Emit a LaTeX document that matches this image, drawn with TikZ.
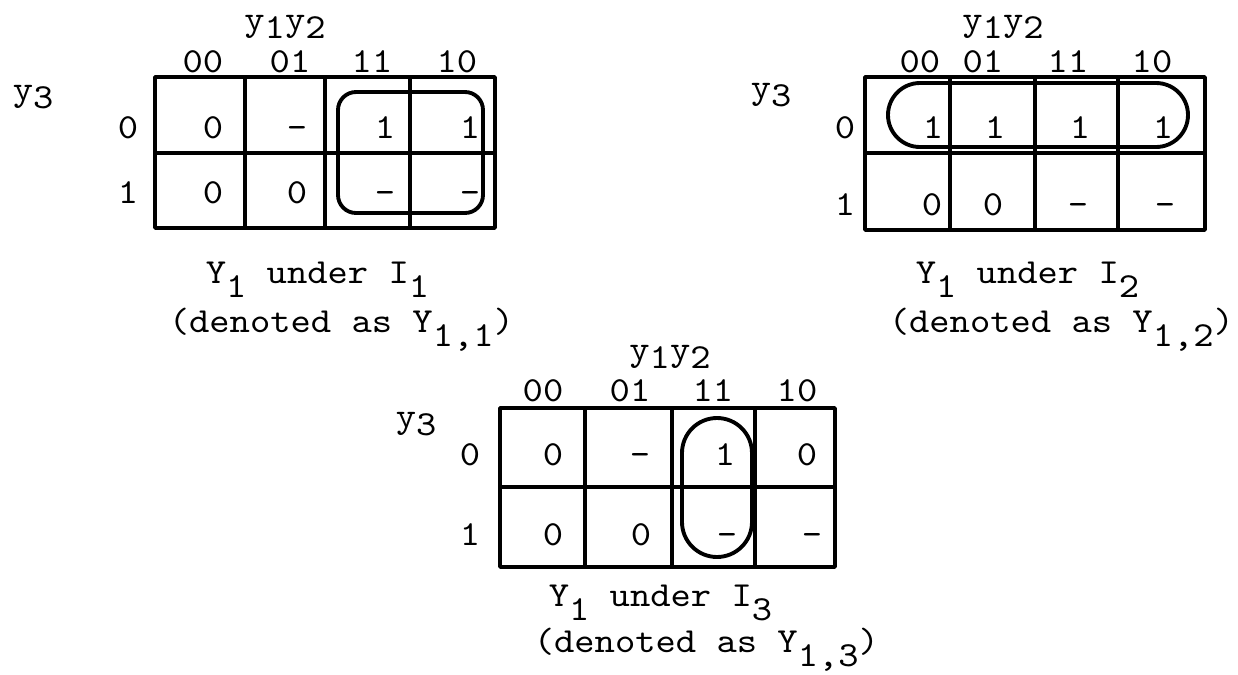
\documentclass[tikz,border=0pt]{standalone}
\usepackage{graphicx}
\newcommand\dn[2]{\raisebox{-#1}{#2}}
\begin{document}
\begin{tikzpicture}[x=0.01cm,y=-0.01cm,
  txt/.style={inner sep=0pt, font=\fontsize{10}{12}\selectfont\ttfamily, xscale=1.1},
  dig/.style={txt, text height=0.61em, text depth=0pt},
  gridline/.style={line width=1pt, line cap=round, line join=round},
  grouploop/.style={line width=1.1pt}]
\useasboundingbox (0,0) rectangle (1238,675);

% ---------------- Map 1 ----------------
\draw[gridline] (155,77) rectangle (495,228);
\draw[gridline] (245,77) -- (245,228) (325,77) -- (325,228) (410,77) -- (410,228) (155,153) -- (495,153);
\node[txt,anchor=base] (m1h) at (285,30) {y\dn{0.25em}{1}y\dn{0.25em}{2}};
\node[txt,anchor=base] (m1c1) at (203,72) {00};
\node[txt,anchor=base] (m1c2) at (290,72) {01};
\node[txt,anchor=base] (m1c3) at (372,72) {11};
\node[txt,anchor=base] (m1c4) at (457,72) {10};
\node[txt,anchor=base west] (m1y) at (12,100) {y\dn{0.25em}{3}};
\node[dig] (m1r0) at (128,128) {0};
\node[dig] (m1r1) at (128,193) {1};
\node[dig] (m1a1) at (213,128) {0};
\node[dig] (m1a2) at (297,128) {-};
\node[dig] (m1a3) at (385,128) {1};
\node[dig] (m1a4) at (470,128) {1};
\node[dig] (m1b1) at (213,193) {0};
\node[dig] (m1b2) at (297,193) {0};
\node[dig] (m1b3) at (385,193) {-};
\node[dig] (m1b4) at (470,193) {-};
\draw[grouploop, rounded corners=1.8mm] (338,92) rectangle (483,213);
\node[txt,anchor=base west] (m1t1) at (205,283) {Y\dn{0.42em}{1} under I\dn{0.42em}{1}};
\node[txt,anchor=base west] (m1t2) at (168,332) {(denoted as Y\dn{0.42em}{1,1})};

% ---------------- Map 2 ----------------
\draw[gridline] (865,77) rectangle (1205,230);
\draw[gridline] (950,77) -- (950,230) (1035,77) -- (1035,230) (1118,77) -- (1118,230) (865,153) -- (1205,153);
\node[txt,anchor=base] (m2h) at (1003,30) {y\dn{0.25em}{1}y\dn{0.25em}{2}};
\node[txt,anchor=base] (m2c1) at (920,72) {00};
\node[txt,anchor=base] (m2c2) at (983,72) {01};
\node[txt,anchor=base] (m2c3) at (1068,72) {11};
\node[txt,anchor=base] (m2c4) at (1152,72) {10};
\node[txt,anchor=base west] (m2y) at (750,98) {y\dn{0.25em}{3}};
\node[dig] (m2r0) at (845,128) {0};
\node[dig] (m2r1) at (845,205) {1};
\node[dig] (m2a1) at (933,128) {1};
\node[dig] (m2a2) at (995,128) {1};
\node[dig] (m2a3) at (1080,128) {1};
\node[dig] (m2a4) at (1163,128) {1};
\node[dig] (m2b1) at (932,205) {0};
\node[dig] (m2b2) at (993,205) {0};
\node[dig] (m2b3) at (1078,205) {-};
\node[dig] (m2b4) at (1165,205) {-};
\draw[grouploop, rounded corners=3.2mm] (888,83) rectangle (1188,147);
\node[txt,anchor=base west] (m2t1) at (915,283) {Y\dn{0.42em}{1} under I\dn{0.42em}{2}};
\node[txt,anchor=base west] (m2t2) at (888,332) {(denoted as Y\dn{0.42em}{1,2})};

% ---------------- Map 3 ----------------
\draw[gridline] (500,408) rectangle (835,567);
\draw[gridline] (585,408) -- (585,567) (672,408) -- (672,567) (755,408) -- (755,567) (500,487) -- (835,487);
\node[txt,anchor=base] (m3h) at (670,360) {y\dn{0.25em}{1}y\dn{0.25em}{2}};
\node[txt,anchor=base] (m3c1) at (543,401) {00};
\node[txt,anchor=base] (m3c2) at (630,401) {01};
\node[txt,anchor=base] (m3c3) at (713,401) {11};
\node[txt,anchor=base] (m3c4) at (797,401) {10};
\node[txt,anchor=base west] (m3y) at (395,427) {y\dn{0.25em}{3}};
\node[dig] (m3r0) at (470,455) {0};
\node[dig] (m3r1) at (470,535) {1};
\node[dig] (m3a1) at (553,455) {0};
\node[dig] (m3a2) at (640,455) {-};
\node[dig] (m3a3) at (725,455) {1};
\node[dig] (m3a4) at (807,455) {0};
\node[dig] (m3b1) at (553,535) {0};
\node[dig] (m3b2) at (641,535) {0};
\node[dig] (m3b3) at (727,535) {-};
\node[dig] (m3b4) at (812,535) {-};
\draw[grouploop, rounded corners=3.5mm] (682,418) rectangle (752,557);
\node[txt,anchor=base west] (m3t1) at (548,606) {Y\dn{0.42em}{1} under I\dn{0.42em}{3}};
\node[txt,anchor=base west] (m3t2) at (533,652) {(denoted as Y\dn{0.42em}{1,3})};
\end{tikzpicture}
\end{document}
